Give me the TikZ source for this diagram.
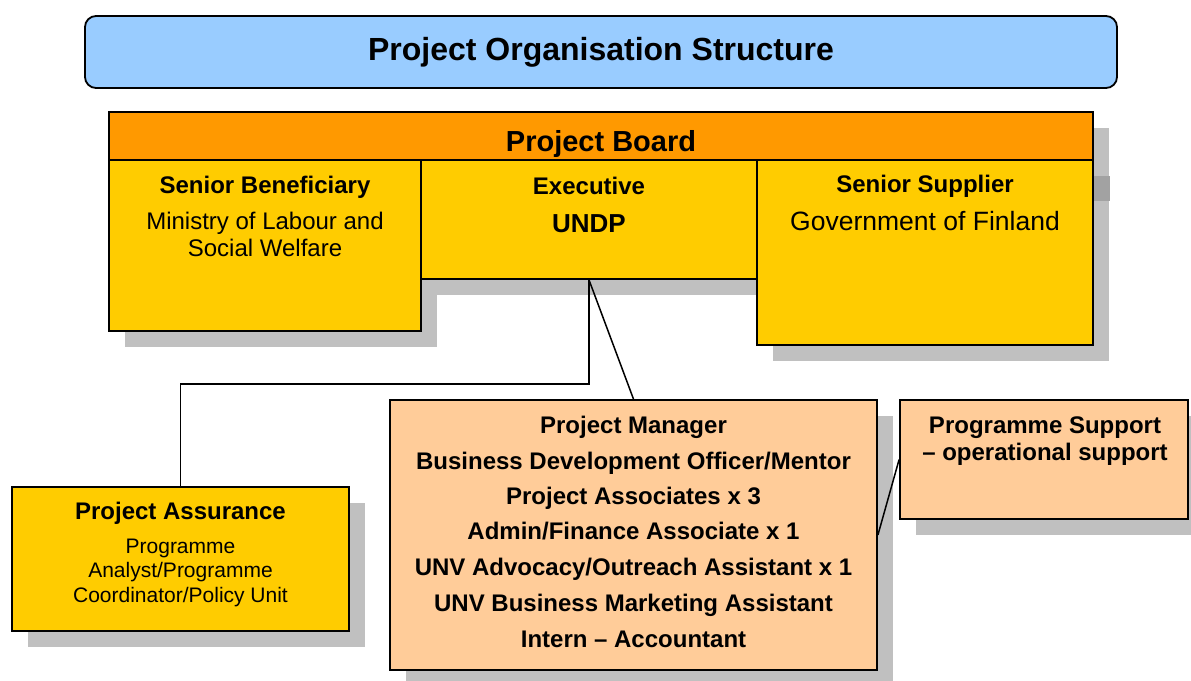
\documentclass[tikz,border=0pt]{standalone}
\usepackage{fontspec}
\setmainfont{Liberation Sans}
\usetikzlibrary{shadows}
\definecolor{titleblue}{HTML}{99CCFF}
\definecolor{boardorange}{HTML}{FF9900}
\definecolor{roleyellow}{HTML}{FFCC00}
\definecolor{teampeach}{HTML}{FFCC99}
\definecolor{shadowgray}{HTML}{C0C0C0}
\definecolor{shadowdark}{HTML}{A2A2A2}
\begin{document}
\begin{tikzpicture}[x=1pt,y=-1pt,
  box/.style={draw=black, line width=1.8pt, rectangle, inner sep=0pt},
  shad/.style={drop shadow={shadow xshift=16pt, shadow yshift=-16pt, fill=shadowgray, opacity=1}},
  lbl/.style={anchor=base, inner sep=0pt, font=\bfseries\fontsize{24}{28}\selectfont},
  txt/.style={anchor=base, inner sep=0pt, font=\fontsize{24}{28}\selectfont},
  small/.style={anchor=base, inner sep=0pt, font=\fontsize{21}{25}\selectfont},
  conn/.style={draw=black, line width=1.5pt}]
\useasboundingbox (0,0) rectangle (1191,680);

% title
\node[box, rounded corners=11pt, fill=titleblue, minimum width=1032pt, minimum height=72pt] (titlebox) at (601,52) {};
\node[lbl, font=\bfseries\fontsize{32}{38}\selectfont] (title) at (601,60.5) {Project Organisation Structure};

% project board
\node[box, shad, fill=boardorange, minimum width=984pt, minimum height=48pt] (board) at (601,136) {};
\node[lbl, font=\bfseries\fontsize{29}{34}\selectfont] (boardtxt) at (601,151) {Project Board};

\node[box, shad, fill=roleyellow, minimum width=312pt, minimum height=171pt] (sb) at (265,245.5) {};
\node[box, shad, fill=roleyellow, minimum width=336pt, minimum height=119pt] (ex) at (589,219.5) {};
\node[box, shad, fill=roleyellow, minimum width=336pt, minimum height=185pt] (ss) at (925,252.5) {};
\fill[shadowdark] (1094,176) rectangle (1110,201);

\node[lbl] (sbhead) at (265,193) {Senior Beneficiary};
\node[txt] (sb1) at (265,229) {Ministry of Labour and};
\node[txt] (sb2) at (265,256) {Social Welfare};

\node[lbl] (exhead) at (589,194) {Executive};
\node[lbl, font=\bfseries\fontsize{26}{30}\selectfont] (ex1) at (589,232) {UNDP};

\node[lbl] (sshead) at (925,192) {Senior Supplier};
\node[txt, font=\fontsize{26.5}{31}\selectfont] (ss1) at (925,230) {Government of Finland};

% lower boxes
\node[box, shad, fill=roleyellow, minimum width=337pt, minimum height=144pt] (pa) at (180.5,559) {};
\node[lbl] (pahead) at (180.5,519) {Project Assurance};
\node[small] (pa1) at (180.5,553) {Programme};
\node[small] (pa2) at (180.5,577) {Analyst/Programme};
\node[small] (pa3) at (180.5,602) {Coordinator/Policy Unit};

\node[box, shad, fill=teampeach, minimum width=487pt, minimum height=270pt] (pm) at (633.5,535) {};
\node[lbl] (pm1) at (633.5,433) {Project Manager};
\node[lbl] (pm2) at (633.5,469) {Business Development Officer/Mentor};
\node[lbl] (pm3) at (633.5,504) {Project Associates x 3};
\node[lbl] (pm4) at (633.5,539) {Admin/Finance Associate x 1};
\node[lbl] (pm5) at (633.5,575) {UNV Advocacy/Outreach Assistant x 1};
\node[lbl] (pm6) at (633.5,611) {UNV Business Marketing Assistant};
\node[lbl] (pm7) at (633.5,647) {Intern – Accountant};

\node[box, shad, fill=teampeach, minimum width=288pt, minimum height=119pt] (ps) at (1044,459.5) {};
\node[lbl] (ps1) at (1045,433) {Programme Support};
\node[lbl] (ps2) at (1045,460) {– operational support};

% connectors
\draw[conn] (ex.south) -- (pm.north);
\draw[conn] (ex.south) -- ++(0,104) -| (pa.north);
\draw[conn] (pm.east) -- (ps.west);
\end{tikzpicture}
\end{document}
